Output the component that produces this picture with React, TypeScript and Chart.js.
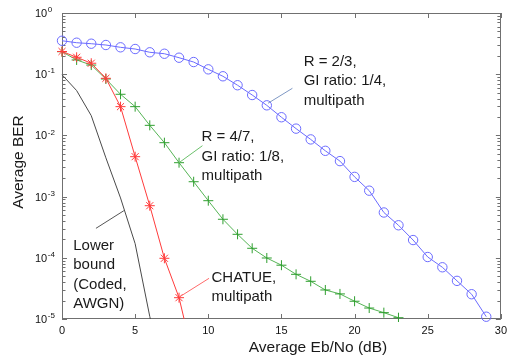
import React, { useEffect, useRef } from 'react';
import { Chart, registerables } from 'chart.js';

Chart.register(...registerables);

// ---- data ----
const ebNoCoded = [0, 1, 2, 3, 4, 5, 6, 7, 8, 9, 10, 11, 12, 13, 14, 15, 16, 17, 18, 19, 20, 21, 22, 23, 24, 25, 26, 27, 28, 29];
const berR23 = [0.352, 0.327, 0.315, 0.3, 0.275, 0.258, 0.228, 0.216, 0.186, 0.158, 0.12, 0.0925, 0.066, 0.0457, 0.031, 0.0198, 0.0129, 0.0086, 0.0056, 0.0038, 0.0021, 0.00125, 0.00055, 0.00034, 0.000195, 0.000103, 0.00007, 0.000042, 0.0000254, 0.0000109];

const ebNoR47 = [0, 1, 2, 3, 4, 5, 6, 7, 8, 9, 10, 11, 12, 13, 14, 15, 16, 17, 18, 19, 20, 21, 22, 23];
const berR47 = [0.233, 0.171, 0.141, 0.0835, 0.047, 0.0295, 0.0146, 0.0076, 0.00358, 0.00175, 0.000857, 0.000426, 0.000242, 0.000143, 0.0000993, 0.0000757, 0.0000537, 0.0000413, 0.0000298, 0.0000257, 0.0000195, 0.0000151, 0.0000127, 0.0000105];

const ebNoChatue = [0, 1, 2, 3, 4, 5, 6, 7, 8, 9];
const berChatue = [0.235, 0.189, 0.151, 0.0857, 0.0295, 0.00449, 0.00071, 0.0000982, 0.0000223, 0.0000022];

const ebNoBound = [0, 1, 2, 3, 4, 5, 6, 7];
const berBound = [0.098, 0.054, 0.021, 0.0043, 0.00095, 0.00017, 0.000011, 0.000001];

const xTickValues = [0, 5, 10, 15, 20, 25, 30];
const yDecadeExponents = [0, -1, -2, -3, -4, -5];

const xTitle = 'Average Eb/No (dB)';
const yTitle = 'Average BER';

// annotation texts, anchored in data coordinates
const annotations = [
  { lines: ['R = 2/3,', 'GI ratio: 1/4,', 'multipath'], at: [16.52, 0.158], leader: [[15.75, 0.0589], [14.08, 0.0335]], color: '#7f98c4' },
  { lines: ['R = 4/7,', 'GI ratio: 1/8,', 'multipath'], at: [9.54, 0.0093], leader: [[9.6, 0.00679], [7.94, 0.0035]], color: '#6cc06c' },
  { lines: ['Lower', 'bound', '(Coded,', 'AWGN)'], at: [0.77, 0.000156], leader: [[2.32, 0.000303], [4.23, 0.000589]], color: '#555555' },
  { lines: ['CHATUE,', 'multipath'], at: [10.22, 0.0000473], leader: [[10.05, 0.0000462], [8.05, 0.0000231]], color: '#ff6a6a' },
];

const FONT = '"Liberation Sans", Arial, Helvetica, sans-serif';
const BLUE = '#6b6bff';
const GREEN = '#2f9f2f';
const GREEN_LINE = '#55b455';
const RED = '#ff3b3b';
const BLACK_LINE = '#4a4a4a';
const AXIS = '#707070';

const toXY = (xs: number[], ys: number[]) => xs.map((x, i) => ({ x, y: ys[i] }));

const decorPlugin = {
  id: 'decor',
  beforeDatasetsDraw(chart: any) {
    const { ctx, chartArea: a, scales } = chart;
    const xs = scales.x;
    const ys = scales.y;
    ctx.save();
    ctx.strokeStyle = AXIS;
    ctx.lineWidth = 1;
    // box
    ctx.strokeRect(Math.round(a.left) + 0.5, Math.round(a.top) + 0.5, Math.round(a.right - a.left) - 1, Math.round(a.bottom - a.top) - 1);
    ctx.beginPath();
    const major = 5;
    const minor = 3.5;
    // x ticks (inward, bottom and top)
    xTickValues.forEach((v) => {
      const px = Math.round(xs.getPixelForValue(v)) + 0.5;
      ctx.moveTo(px, a.bottom);
      ctx.lineTo(px, a.bottom - major);
      ctx.moveTo(px, a.top);
      ctx.lineTo(px, a.top + major);
    });
    // y decade ticks + minor ticks (left & right)
    yDecadeExponents.forEach((e) => {
      const py = Math.round(ys.getPixelForValue(Math.pow(10, e))) + 0.5;
      ctx.moveTo(a.left, py);
      ctx.lineTo(a.left + major, py);
      ctx.moveTo(a.right, py);
      ctx.lineTo(a.right - major, py);
      if (e < 0) {
        for (let m = 2; m <= 9; m++) {
          const pm = Math.round(ys.getPixelForValue(m * Math.pow(10, e))) + 0.5;
          ctx.moveTo(a.left, pm);
          ctx.lineTo(a.left + minor, pm);
          ctx.moveTo(a.right, pm);
          ctx.lineTo(a.right - minor, pm);
        }
      }
    });
    ctx.stroke();

    // y tick labels with superscript exponents
    ctx.fillStyle = '#111';
    ctx.textBaseline = 'middle';
    ctx.textAlign = 'left';
    yDecadeExponents.forEach((e) => {
      const py = ys.getPixelForValue(Math.pow(10, e));
      ctx.font = `11px ${FONT}`;
      ctx.fillText('10', 35, py + 1);
      const w = ctx.measureText('10').width;
      ctx.font = `8px ${FONT}`;
      ctx.fillText(e === 0 ? '0' : '-' + String(-e), 35 + w + 0.5, py - 3);
    });
    ctx.restore();
  },
  afterDraw(chart: any) {
    const { ctx, scales } = chart;
    const xs = scales.x;
    const ys = scales.y;
    ctx.save();
    // annotations
    annotations.forEach((an) => {
      ctx.strokeStyle = an.color;
      ctx.lineWidth = 1;
      ctx.beginPath();
      ctx.moveTo(xs.getPixelForValue(an.leader[0][0]), ys.getPixelForValue(an.leader[0][1]));
      ctx.lineTo(xs.getPixelForValue(an.leader[1][0]), ys.getPixelForValue(an.leader[1][1]));
      ctx.stroke();
      ctx.fillStyle = '#1a1a1a';
      ctx.font = `15px ${FONT}`;
      ctx.textAlign = 'left';
      ctx.textBaseline = 'middle';
      const x0 = xs.getPixelForValue(an.at[0]);
      const y0 = ys.getPixelForValue(an.at[1]);
      an.lines.forEach((t, i) => ctx.fillText(t, x0, y0 + i * 19.2));
    });
    // axis titles
    ctx.fillStyle = '#1a1a1a';
    ctx.font = `15.5px ${FONT}`;
    ctx.textAlign = 'center';
    ctx.textBaseline = 'middle';
    ctx.fillText(xTitle, 318, 348);
    ctx.translate(19, 162);
    ctx.rotate(-Math.PI / 2);
    ctx.fillText(yTitle, 0, 0);
    ctx.restore();
  },
};

export default function App() {
  const ref = useRef<HTMLCanvasElement>(null);
  useEffect(() => {
    if (!ref.current) return;
    const chart = new Chart(ref.current, {
      type: 'line',
      data: {
        datasets: [
          {
            label: 'Lower bound (Coded, AWGN)',
            data: toXY(ebNoBound, berBound),
            borderColor: BLACK_LINE,
            borderWidth: 1,
            pointRadius: 0,
            fill: false,
            tension: 0,
            clip: { left: 10, top: 10, right: 10, bottom: 0 } as any,
          },
          {
            label: 'CHATUE, multipath',
            data: toXY(ebNoChatue, berChatue),
            borderColor: RED,
            borderWidth: 1,
            pointStyle: 'star',
            pointRadius: 5,
            pointBorderColor: RED,
            pointBackgroundColor: 'rgba(0,0,0,0)',
            pointBorderWidth: 1,
            fill: false,
            tension: 0,
            clip: { left: 10, top: 10, right: 10, bottom: 0 } as any,
          },
          {
            label: 'R = 4/7, GI ratio: 1/8, multipath',
            data: toXY(ebNoR47, berR47),
            borderColor: GREEN_LINE,
            borderWidth: 1,
            pointStyle: 'cross',
            pointRadius: 5,
            pointBorderColor: GREEN,
            pointBackgroundColor: 'rgba(0,0,0,0)',
            pointBorderWidth: 1,
            fill: false,
            tension: 0,
            clip: { left: 10, top: 10, right: 10, bottom: 3 } as any,
          },
          {
            label: 'R = 2/3, GI ratio: 1/4, multipath',
            data: toXY(ebNoCoded, berR23),
            borderColor: BLUE,
            borderWidth: 1,
            pointStyle: 'circle',
            pointRadius: 4.7,
            pointBorderColor: BLUE,
            pointBackgroundColor: 'rgba(0,0,0,0)',
            pointBorderWidth: 1,
            fill: false,
            tension: 0,
            clip: { left: 10, top: 10, right: 10, bottom: 3 } as any,
          },
        ],
      },
      options: {
        animation: false,
        responsive: false,
        maintainAspectRatio: false,
        layout: { padding: { top: 13, right: 10, left: 0, bottom: 0 } },
        plugins: { legend: { display: false }, tooltip: { enabled: false } },
        scales: {
          x: {
            type: 'linear',
            min: 0,
            max: 30,
            grid: { display: false, drawTicks: false },
            border: { display: false },
            ticks: {
              stepSize: 5,
              padding: 5,
              color: '#111',
              font: { family: FONT, size: 11 },
              maxRotation: 0,
            },
            afterFit: (s: any) => {
              s.height = 41;
            },
          },
          y: {
            type: 'logarithmic',
            min: 1e-5,
            max: 1,
            grid: { display: false, drawTicks: false },
            border: { display: false },
            ticks: { display: false },
            afterFit: (s: any) => {
              s.width = 62;
            },
          },
        },
      },
      plugins: [decorPlugin],
    });
    return () => chart.destroy();
  }, []);
  return (
    <div style={{ position: 'fixed', left: 0, top: 0, width: 512, height: 360, background: '#fff' }}>
      <canvas ref={ref} width={512} height={360} style={{ width: 512, height: 360, display: 'block' }} />
    </div>
  );
}
